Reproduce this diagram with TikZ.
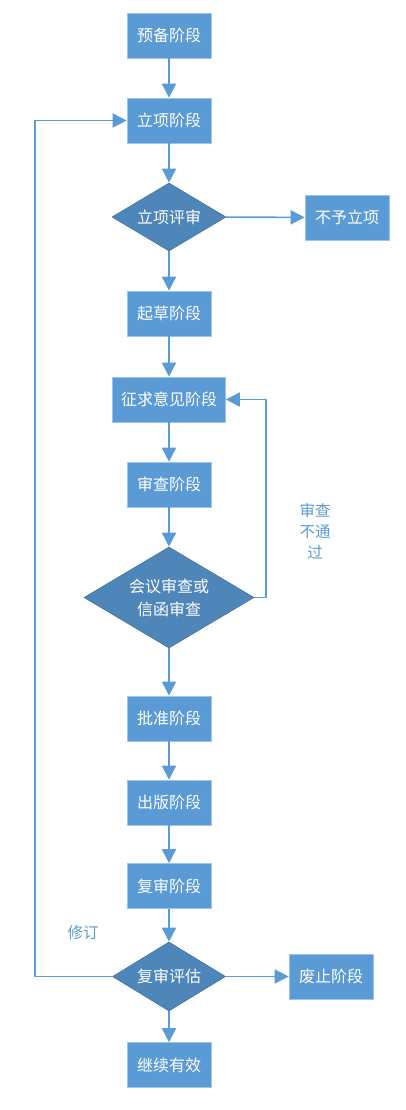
\documentclass[tikz,border=0pt]{standalone}
\usepackage{fontspec}
\setmainfont{Noto Sans CJK SC}
\usetikzlibrary{shapes.geometric,arrows.meta}
\definecolor{boxblue}{HTML}{5B9BD5}
\definecolor{diablue}{HTML}{4E86BA}
\definecolor{diaedge}{HTML}{41719C}
\definecolor{labblue}{HTML}{5B9BD5}
\begin{document}
\begin{tikzpicture}[
    x=1pt, y=-1pt,
    stage/.style={rectangle, fill=boxblue, draw=boxblue!60!white, line width=0.6pt,
      minimum width=84pt, minimum height=45pt, inner sep=0pt,
      text=white, font=\fontsize{16pt}{19pt}\selectfont},
    check/.style={diamond, aspect=1.7, fill=diablue, draw=diaedge, line width=0.6pt, inner sep=0pt,
      text=white, align=center, font=\fontsize{16pt}{23pt}\selectfont},
    flow/.style={draw=boxblue, line width=1.6pt, -{Triangle[width=14pt,length=14pt]}},
    note/.style={text=labblue, align=center, font=\fontsize{15.5pt}{21pt}\selectfont},
  line join=round]
  \useasboundingbox (0,0) rectangle (405,1110);

  \node [stage] (prep) at (169,35.5) {预备阶段};
  \node [stage] (proj) at (169,120.5) {立项阶段};
  \node [check, minimum width=114pt, minimum height=68pt] (projrev) at (169,217) {立项评审};
  \node [stage] (reject) at (347,217.5) {不予立项};
  \node [stage] (draft) at (169,313.5) {起草阶段};
  \node [stage, minimum width=113pt] (opinion) at (169,399.5) {征求意见阶段};
  \node [stage] (review) at (169,484.5) {审查阶段};
  \node [check, minimum width=170pt, minimum height=101pt] (meet) at (169,597.5) {会议审查或\\信函审查};
  \node [stage] (approve) at (169,718.5) {批准阶段};
  \node [stage] (publish) at (169,802.5) {出版阶段};
  \node [stage] (rerev) at (169,886) {复审阶段};
  \node [check, minimum width=113pt, minimum height=69pt] (reeval) at (169,976.5) {复审评估};
  \node [stage] (abolish) at (331,976.5) {废止阶段};
  \node [stage] (valid) at (169,1065) {继续有效};

  \node [note] (fail) at (315,531) {审查\\不通\\过};
  \node [note] (revise) at (83,933) {修订};

  \coordinate (rloop) at (266,399.5);
  \coordinate (lloop) at (35,120.5);

  \draw [flow] (prep) -- (proj);
  \draw [flow] (proj) -- (projrev);
  \draw [flow] (projrev) -- (reject);
  \draw [flow] (projrev) -- (draft);
  \draw [flow] (draft) -- (opinion);
  \draw [flow] (opinion) -- (review);
  \draw [flow] (review) -- (meet);
  \draw [flow] (meet) -- (approve);
  \draw [flow] (approve) -- (publish);
  \draw [flow] (publish) -- (rerev);
  \draw [flow] (rerev) -- (reeval);
  \draw [flow] (reeval) -- (abolish);
  \draw [flow] (reeval) -- (valid);
  \draw [flow] (meet.east) -| (rloop) -- (opinion.east);
  \draw [flow] (reeval.west) -| (lloop) -- (proj.west);
\end{tikzpicture}
\end{document}
